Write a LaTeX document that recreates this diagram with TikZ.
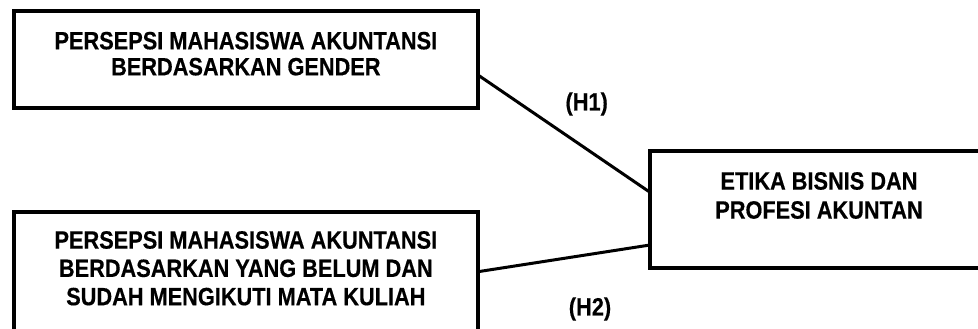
\documentclass[tikz,border=0pt]{standalone}
\usepackage{fontspec}
\setmainfont{Liberation Sans}[FakeStretch=0.87, BoldFont={Liberation Sans Bold}, BoldFeatures={FakeBold=0.4}]
\usetikzlibrary{calc}
\begin{document}
\begin{tikzpicture}[x=1pt,y=-1pt]
\tikzset{
  box/.style={draw, rectangle, line width=4pt, inner sep=0pt, outer sep=0pt},
  openbox/.style={rectangle, inner sep=0pt, outer sep=0pt},
  lbl/.style={font=\fontsize{25}{28}\selectfont\bfseries, align=center, inner sep=0pt},
  link/.style={line width=3pt},
}
\useasboundingbox (0,0) rectangle (978,329);

% the three boxes (the right one runs off the page edge)
\node[box, anchor=north west, minimum width=464.3pt, minimum height=97.3pt] (b1) at (13.7,10.7) {};
\node[box, anchor=north west, minimum width=464.3pt, minimum height=140pt] (b2) at (13.7,212) {};
\node[openbox, anchor=north west, minimum width=420pt, minimum height=116.7pt] (b3) at (650,151.3) {};
\draw[line width=4pt] (b3.north east) -- (b3.north west) -- (b3.south west) -- (b3.south east);

% box texts
\node[lbl, font=\fontsize{25}{26}\selectfont\bfseries] (t1) at (245.85,53.7) {PERSEPSI MAHASISWA AKUNTANSI\\BERDASARKAN GENDER};
\node[lbl, font=\fontsize{25}{28.3}\selectfont\bfseries] (t2) at (245.85,268.3) {PERSEPSI MAHASISWA AKUNTANSI\\BERDASARKAN YANG BELUM DAN\\SUDAH MENGIKUTI MATA KULIAH};
\node[lbl, font=\fontsize{25}{29}\selectfont\bfseries] (t3) at (819,195.5) {ETIKA BISNIS DAN\\PROFESI AKUNTAN};

% hypothesis links
\draw[link] ([yshift=-64.3pt]b1.north east) -- ([yshift=-41pt]b3.north west);
\draw[link] ([yshift=-59.7pt]b2.north east) -- ([yshift=-93.7pt]b3.north west);

\node[lbl] (h1) at (586.7,104) {(H1)};
\node[lbl] (h2) at (590,309) {(H2)};
\end{tikzpicture}
\end{document}
